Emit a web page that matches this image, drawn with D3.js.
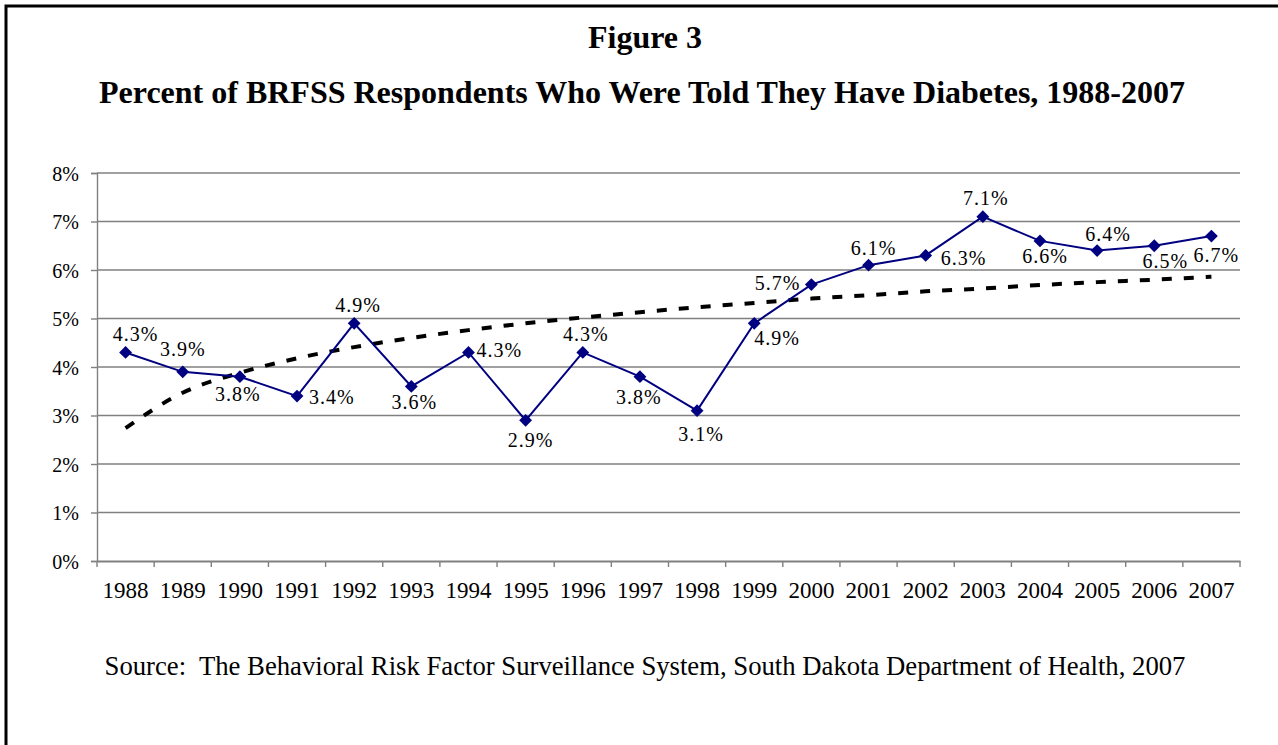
<!DOCTYPE html>
<html>
<head>
<meta charset="utf-8">
<script src="https://cdn.jsdelivr.net/npm/d3@7"></script>
<style>
  body { margin: 0; background: #fff; }
  text { font-family: "Liberation Serif", "Times New Roman", serif; fill: #000; }
</style>
</head>
<body>
<div id="grafico"></div>
<script>
// Datos
const years = ["1988", "1989", "1990", "1991", "1992", "1993", "1994", "1995", "1996", "1997",
               "1998", "1999", "2000", "2001", "2002", "2003", "2004", "2005", "2006", "2007"];
const diabetes = [4.3, 3.9, 3.8, 3.4, 4.9, 3.6, 4.3, 2.9, 4.3, 3.8,
                  3.1, 4.9, 5.7, 6.1, 6.3, 7.1, 6.6, 6.4, 6.5, 6.7];
// línea de tendencia (punteada), estimada del dibujo
const trend = [2.74, 3.47, 3.88, 4.18, 4.41, 4.60, 4.76, 4.90, 5.02, 5.13,
               5.23, 5.32, 5.41, 5.48, 5.56, 5.62, 5.69, 5.75, 5.80, 5.86];
const yTicks = [0, 1, 2, 3, 4, 5, 6, 7, 8];

// colocación de cada etiqueta respecto a su punto (desplazamiento en px)
const labelAnchor = ["middle", "middle", "middle", "start", "middle", "middle", "start", "middle", "middle", "middle",
                     "middle", "start", "end", "middle", "start", "middle", "middle", "middle", "middle", "middle"];
const labelDx = [10, 0, -2, 12, 4, 3, 8, 5, 3, -1, 4, 0, -11, 5, 15, 3, 5, 11, 11, 5];
const labelDy = [-11, -16, 24, 8, -11, 23, 5, 27, -11, 27, 30, 22, 5, -10, 10, -12, 22, -10, 22, 26];

const width = 1278, height = 745;
const plotLeft = 97, plotRight = 1240, plotTop = 173, plotBottom = 561;

const svg = d3.select("#grafico")
    .append("svg")
    .attr("width", width)
    .attr("height", height);

// marco
svg.append("rect")
    .attr("x", 6)
    .attr("y", 6)
    .attr("width", 1300)
    .attr("height", 800)
    .attr("fill", "none")
    .attr("stroke", "#000")
    .attr("stroke-width", 3);

// títulos
svg.append("text")
    .attr("x", 645)
    .attr("y", 48)
    .attr("text-anchor", "middle")
    .style("font-size", "32px")
    .style("font-weight", "bold")
    .text("Figure 3");

svg.append("text")
    .attr("x", 642)
    .attr("y", 103)
    .attr("text-anchor", "middle")
    .style("font-size", "32px")
    .style("font-weight", "bold")
    .text("Percent of BRFSS Respondents Who Were Told They Have Diabetes, 1988-2007");

const xScale = d3.scaleBand()
    .domain(years)
    .range([plotLeft, plotRight]);

const yScale = d3.scaleLinear()
    .domain([0, 8])
    .range([plotBottom, plotTop]);

const cx = d => xScale(d) + xScale.bandwidth() / 2;

// líneas de la cuadrícula
svg.selectAll(".grid")
    .data(yTicks.filter(t => t > 0))
    .enter()
    .append("line")
    .attr("x1", plotLeft)
    .attr("x2", plotRight)
    .attr("y1", d => yScale(d))
    .attr("y2", d => yScale(d))
    .attr("stroke", "#808080")
    .attr("stroke-width", 1.4);

// eje y
const yAxis = svg.append("g")
    .attr("transform", `translate(${plotLeft}, 0)`)
    .call(d3.axisLeft(yScale).tickValues(yTicks).tickSize(6).tickPadding(12).tickFormat(d => d + "%"));
yAxis.select(".domain").attr("stroke", "#808080").attr("stroke-width", 1.4);
yAxis.selectAll(".tick line").attr("stroke", "#808080").attr("stroke-width", 1.4);
yAxis.selectAll("text")
    .style("font-size", "20px")
    .style("font-family", "Liberation Serif")
    .attr("fill", "#000")
    .attr("dy", "0.35em");

// eje x, con marcas entre las categorías
const xAxis = svg.append("g")
    .attr("transform", `translate(0, ${plotBottom})`)
    .call(d3.axisBottom(xScale).tickSize(0).tickPadding(21));
xAxis.select(".domain").attr("stroke", "#808080").attr("stroke-width", 2.2);
xAxis.selectAll("text")
    .style("font-size", "23px")
    .style("font-family", "Liberation Serif")
    .attr("fill", "#000");

svg.selectAll(".xtick")
    .data(years.concat(["fin"]))
    .enter()
    .append("line")
    .attr("x1", (d, i) => plotLeft + i * xScale.bandwidth())
    .attr("x2", (d, i) => plotLeft + i * xScale.bandwidth())
    .attr("y1", plotBottom)
    .attr("y2", plotBottom + 6)
    .attr("stroke", "#808080")
    .attr("stroke-width", 1.4);

// tendencia punteada
const trendLine = d3.line()
    .x((d, i) => cx(years[i]))
    .y(d => yScale(d))
    .curve(d3.curveMonotoneX);

svg.append("path")
    .datum(trend)
    .attr("fill", "none")
    .attr("stroke", "#000")
    .attr("stroke-width", 4)
    .attr("stroke-dasharray", "10,12")
    .attr("d", trendLine);

// serie principal
const line = d3.line()
    .x((d, i) => cx(years[i]))
    .y(d => yScale(d));

svg.append("path")
    .datum(diabetes)
    .attr("fill", "none")
    .attr("stroke", "#000080")
    .attr("stroke-width", 2)
    .attr("d", line);

svg.selectAll(".punto")
    .data(diabetes)
    .enter()
    .append("path")
    .attr("d", d3.symbol(d3.symbolDiamond2, 105))
    .attr("transform", (d, i) => `translate(${cx(years[i])}, ${yScale(d)})`)
    .attr("fill", "#000080");

// etiquetas de datos
svg.selectAll(".etiqueta")
    .data(diabetes)
    .enter()
    .append("text")
    .attr("x", (d, i) => cx(years[i]) + labelDx[i])
    .attr("y", (d, i) => yScale(d) + labelDy[i])
    .attr("text-anchor", (d, i) => labelAnchor[i])
    .style("font-size", "20px")
    .style("letter-spacing", "1px")
    .text(d => d.toFixed(1) + "%");

// fuente
svg.append("text")
    .attr("x", 645)
    .attr("y", 675)
    .attr("text-anchor", "middle")
    .style("font-size", "26.7px")
    .style("white-space", "pre")
    .text("Source:  The Behavioral Risk Factor Surveillance System, South Dakota Department of Health, 2007");
</script>
</body>
</html>
